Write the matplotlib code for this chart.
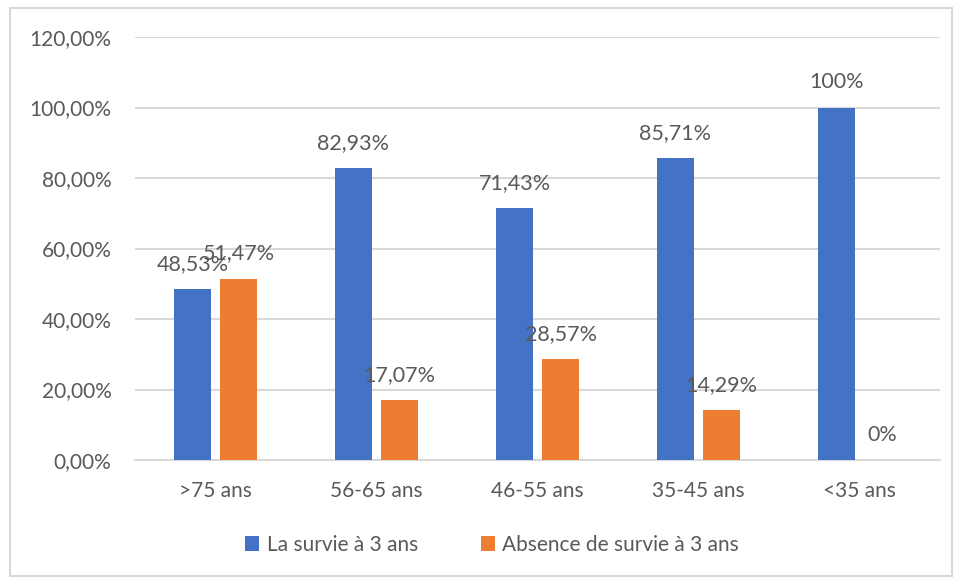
import matplotlib.pyplot as plt
import numpy as np
from matplotlib.patches import Rectangle

plt.rcParams['font.family'] = ['Lato', 'DejaVu Sans']

categories = ['>75 ans', '56-65 ans', '46-55 ans', '35-45 ans', '<35 ans']
survie = [48.53, 82.93, 71.43, 85.71, 100]
absence = [51.47, 17.07, 28.57, 14.29, 0]
series_names = ['La survie à 3 ans', 'Absence de survie à 3 ans']

blue = '#4472C4'
orange = '#ED7D31'
text_col = '#595959'
grid_col = '#D9D9D9'


def fmt_label(v):
    if float(v).is_integer():
        return f'{int(v)}%'
    return f'{v:.2f}%'.replace('.', ',')


fig = plt.figure(figsize=(9.57, 5.79), dpi=100)
ax = fig.add_axes([135 / 957, 1 - 460 / 579, 805 / 957, 423 / 579])

# chart frame
fig.patches.append(Rectangle((10 / 957, 1 - 576 / 579), 942 / 957, 568 / 579,
                             transform=fig.transFigure, fill=False,
                             edgecolor=grid_col, linewidth=1.5))

x = np.arange(len(categories))
w = 0.225
off = 0.143
b1 = ax.bar(x - off, survie, w, color=blue, label=series_names[0], zorder=3)
b2 = ax.bar(x + off, absence, w, color=orange, label=series_names[1], zorder=3)

for bars, vals in ((b1, survie), (b2, absence)):
    for rect, v in zip(bars, vals):
        ax.annotate(fmt_label(v), (rect.get_x() + rect.get_width() / 2, v),
                    xytext=(0, 18), textcoords='offset points',
                    ha='center', va='center', fontsize=15.5, color=text_col,
                    zorder=4)

ax.set_xlim(-0.5, len(categories) - 0.5)
ax.set_ylim(0, 120)
ax.set_yticks(np.arange(0, 121, 20))
ax.set_yticklabels([f'{v:.2f}%'.replace('.', ',') for v in np.arange(0, 121, 20)])
ax.set_xticks(x)
ax.set_xticklabels(categories)
ax.tick_params(axis='y', length=0, pad=17, labelsize=15, labelcolor=text_col)
ax.tick_params(axis='x', length=0, pad=15, labelsize=15, labelcolor=text_col)

ax.grid(axis='y', color=grid_col, linewidth=1.5, zorder=0)
for s in ('top', 'right', 'left'):
    ax.spines[s].set_visible(False)
ax.spines['bottom'].set_color(grid_col)
ax.spines['bottom'].set_linewidth(1.5)

fig.legend(loc='center', bbox_to_anchor=(492 / 957, 1 - 545 / 579), ncol=2,
           frameon=False, fontsize=15, labelcolor=text_col,
           handlelength=0.7, handleheight=0.7, handletextpad=0.35,
           columnspacing=3.0)

fig.savefig('out.png', dpi=100)
